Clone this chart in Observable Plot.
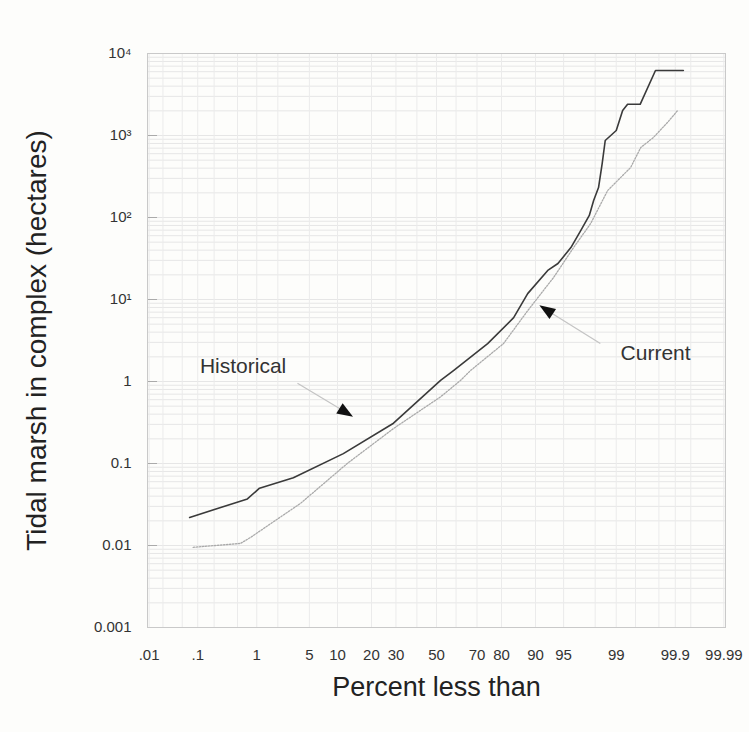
<!DOCTYPE html>
<html><head><meta charset="utf-8">
<script src="https://cdn.jsdelivr.net/npm/d3@7"></script>
<script src="https://cdn.jsdelivr.net/npm/@observablehq/plot@0.6"></script>
<style>
html,body{margin:0;padding:0;background:#fdfdfb;}
#chart svg{display:block;background:#fdfdfb;}
</style></head><body><div id="chart"></div>
<script>
// ---- data ----
const historicalPct = [0.07, 0.72, 1.1, 3.2, 11.4, 28.9, 52.1, 58.7, 74.6, 84.1, 88.1, 92.5, 94.2, 95.9, 96.9, 97.6, 97.9, 98.2, 98.4, 98.55, 98.7, 99.0, 99.2, 99.33, 99.58, 99.77, 99.93];
const historicalHa  = [0.022, 0.037, 0.05, 0.067, 0.132, 0.31, 1.03, 1.36, 2.9, 6.0, 11.8, 22.6, 27.5, 43, 69, 106, 161, 232, 456, 869, 946, 1150, 2020, 2400, 2400, 6200, 6200];
const currentPct = [0.082, 0.56, 0.8, 1.6, 3.9, 12.4, 28.9, 52.1, 62.2, 67, 80.7, 88.1, 93.5, 96.2, 97.7, 98.66, 99.4, 99.59, 99.75, 99.86, 99.91];
const currentHa  = [0.0095, 0.0106, 0.0125, 0.0185, 0.0325, 0.1, 0.267, 0.65, 1.03, 1.36, 2.9, 7.3, 18.5, 43, 84.5, 213, 407, 714, 946, 1440, 2020];

const xTickPct    = [0.01, 0.1, 1, 5, 10, 20, 30, 50, 70, 80, 90, 95, 99, 99.9, 99.99];
const xTickLabels = [".01", ".1", "1", "5", "10", "20", "30", "50", "70", "80", "90", "95", "99", "99.9", "99.99"];
const xGridPct    = [0.01, 0.02, 0.05, 0.1, 0.2, 0.5, 1, 2, 5, 10, 20, 30, 40, 50, 60, 70, 80, 90, 95, 98, 99, 99.5, 99.8, 99.9, 99.95, 99.99];
const yTickValues = [0.001, 0.01, 0.1, 1, 10, 100, 1000, 10000];
const yTickLabels = ["0.001", "0.01", "0.1", "1", "10\u00b9", "10\u00b2", "10\u00b3", "10\u2074"];

const annotationLabels = ["Historical", "Current"];
const annotationPct = [0.11, 99.14];
const annotationHa  = [1.55, 2.2];
const arrowFromPct = [3.6, 98.3];
const arrowFromHa  = [0.95, 2.9];
const arrowToPct   = [11.7, 92.5];
const arrowToHa    = [0.43, 7.3];
const arrowAngle   = [122, -57];

const xTitle = "Percent less than";
const yTitle = "Tidal marsh in complex (hectares)";

// ---- normal probability transform (inverse normal CDF, Acklam) ----
function probit(p) {
  const a=[-3.969683028665376e+01,2.209460984245205e+02,-2.759285104469687e+02,1.383577518672690e+02,-3.066479806614716e+01,2.506628277459239e+00];
  const b=[-5.447609879822406e+01,1.615858368580409e+02,-1.556989798598866e+02,6.680131188771972e+01,-1.328068155288572e+01];
  const c=[-7.784894002430293e-03,-3.223964580411365e-01,-2.400758277161838e+00,-2.549732539343734e+00,4.374664141464968e+00,2.938163982698783e+00];
  const d=[7.784695709041462e-03,3.224671290700398e-01,2.445134137142996e+00,3.754408661907416e+00];
  const pl = 0.02425, ph = 1 - pl;
  let q, r;
  if (p < pl) { q = Math.sqrt(-2*Math.log(p)); return (((((c[0]*q+c[1])*q+c[2])*q+c[3])*q+c[4])*q+c[5])/((((d[0]*q+d[1])*q+d[2])*q+d[3])*q+1); }
  if (p <= ph) { q = p-0.5; r = q*q; return (((((a[0]*r+a[1])*r+a[2])*r+a[3])*r+a[4])*r+a[5])*q/(((((b[0]*r+b[1])*r+b[2])*r+b[3])*r+b[4])*r+1); }
  q = Math.sqrt(-2*Math.log(1-p)); return -(((((c[0]*q+c[1])*q+c[2])*q+c[3])*q+c[4])*q+c[5])/((((d[0]*q+d[1])*q+d[2])*q+d[3])*q+1);
}
const zOf = pct => probit(pct / 100);

// elongated arrowhead symbol (points up before rotation)
const arrowHead = {
  draw(context) {
    context.moveTo(0, -10);
    context.lineTo(6, 6);
    context.lineTo(-6, 6);
    context.closePath();
  }
};

// ---- tables ----
const historical = historicalPct.map((p, i) => ({z: zOf(p), ha: historicalHa[i]}));
const current = currentPct.map((p, i) => ({z: zOf(p), ha: currentHa[i]}));
const xTicksZ = xTickPct.map(zOf);
const xLabelOf = new Map(xTicksZ.map((z, i) => [z, xTickLabels[i]]));
const yLabelOf = new Map(yTickValues.map((v, i) => [v, yTickLabels[i]]));
const xGridZ = xGridPct.map(zOf);
const yMinor = [];
for (let k = 0; k < yTickValues.length - 1; k++) for (let m = 1; m < 10; m++) yMinor.push(yTickValues[k] * m);
yMinor.push(yTickValues[yTickValues.length - 1]);
const annotations = annotationLabels.map((t, i) => ({
  text: t, z: zOf(annotationPct[i]), ha: annotationHa[i],
  z1: zOf(arrowFromPct[i]), ha1: arrowFromHa[i], z2: zOf(arrowToPct[i]), ha2: arrowToHa[i], angle: arrowAngle[i]
}));

const xDomain = [-3.74, 3.74];
const font = "'Liberation Sans', Arial, Helvetica, sans-serif";

const chart = Plot.plot({
  width: 749, height: 732,
  marginLeft: 147, marginRight: 24, marginTop: 53, marginBottom: 105,
  style: {fontFamily: font, background: "#fdfdfb", color: "#333"},
  x: {type: "linear", domain: xDomain},
  y: {type: "log", domain: [yTickValues[0], yTickValues[yTickValues.length - 1]]},
  marks: [
    Plot.ruleY(yMinor, {stroke: "#e6e6e6", strokeWidth: 1}),
    Plot.ruleX(xGridZ, {stroke: "#ebebeb", strokeWidth: 1}),
    Plot.ruleY(yTickValues.slice(1, -1), {x1: xDomain[0], x2: xDomain[0] + 0.13, stroke: "#aaa"}),
    Plot.frame({stroke: "#c9c9c9"}),
    Plot.axisX(xTicksZ, {tickSize: 0, tickPadding: 22, tickFormat: z => xLabelOf.get(z), fontSize: 15, fill: "#333", label: null}),
    Plot.axisY(yTickValues, {tickSize: 0, tickPadding: 16, tickFormat: v => yLabelOf.get(v), fontSize: 15, fill: "#333", label: null}),
    Plot.line(current, {x: "z", y: "ha", stroke: "#aaaaaa", strokeWidth: 1.3, strokeDasharray: "1.5,1.5"}),
    Plot.line(historical, {x: "z", y: "ha", stroke: "#3a3a3a", strokeWidth: 1.6}),
    Plot.link(annotations, {x1: "z1", y1: "ha1", x2: "z2", y2: "ha2", stroke: "#c4c4c4", strokeWidth: 1.2}),
    Plot.dot(annotations, {x: "z2", y: "ha2", symbol: arrowHead, r: 5, fill: "#111", stroke: "none", rotate: "angle"}),
    Plot.text(annotations, {x: "z", y: "ha", text: "text", textAnchor: "start", fontSize: 21, fill: "#333"}),
    Plot.text([xTitle], {frameAnchor: "bottom", dy: 68, fontSize: 27, fill: "#222"}),
    Plot.text([yTitle], {frameAnchor: "left", dx: -110, rotate: -90, textAnchor: "middle", fontSize: 28, fill: "#222"})
  ]
});
document.getElementById("chart").appendChild(chart);
</script>
</body></html>
